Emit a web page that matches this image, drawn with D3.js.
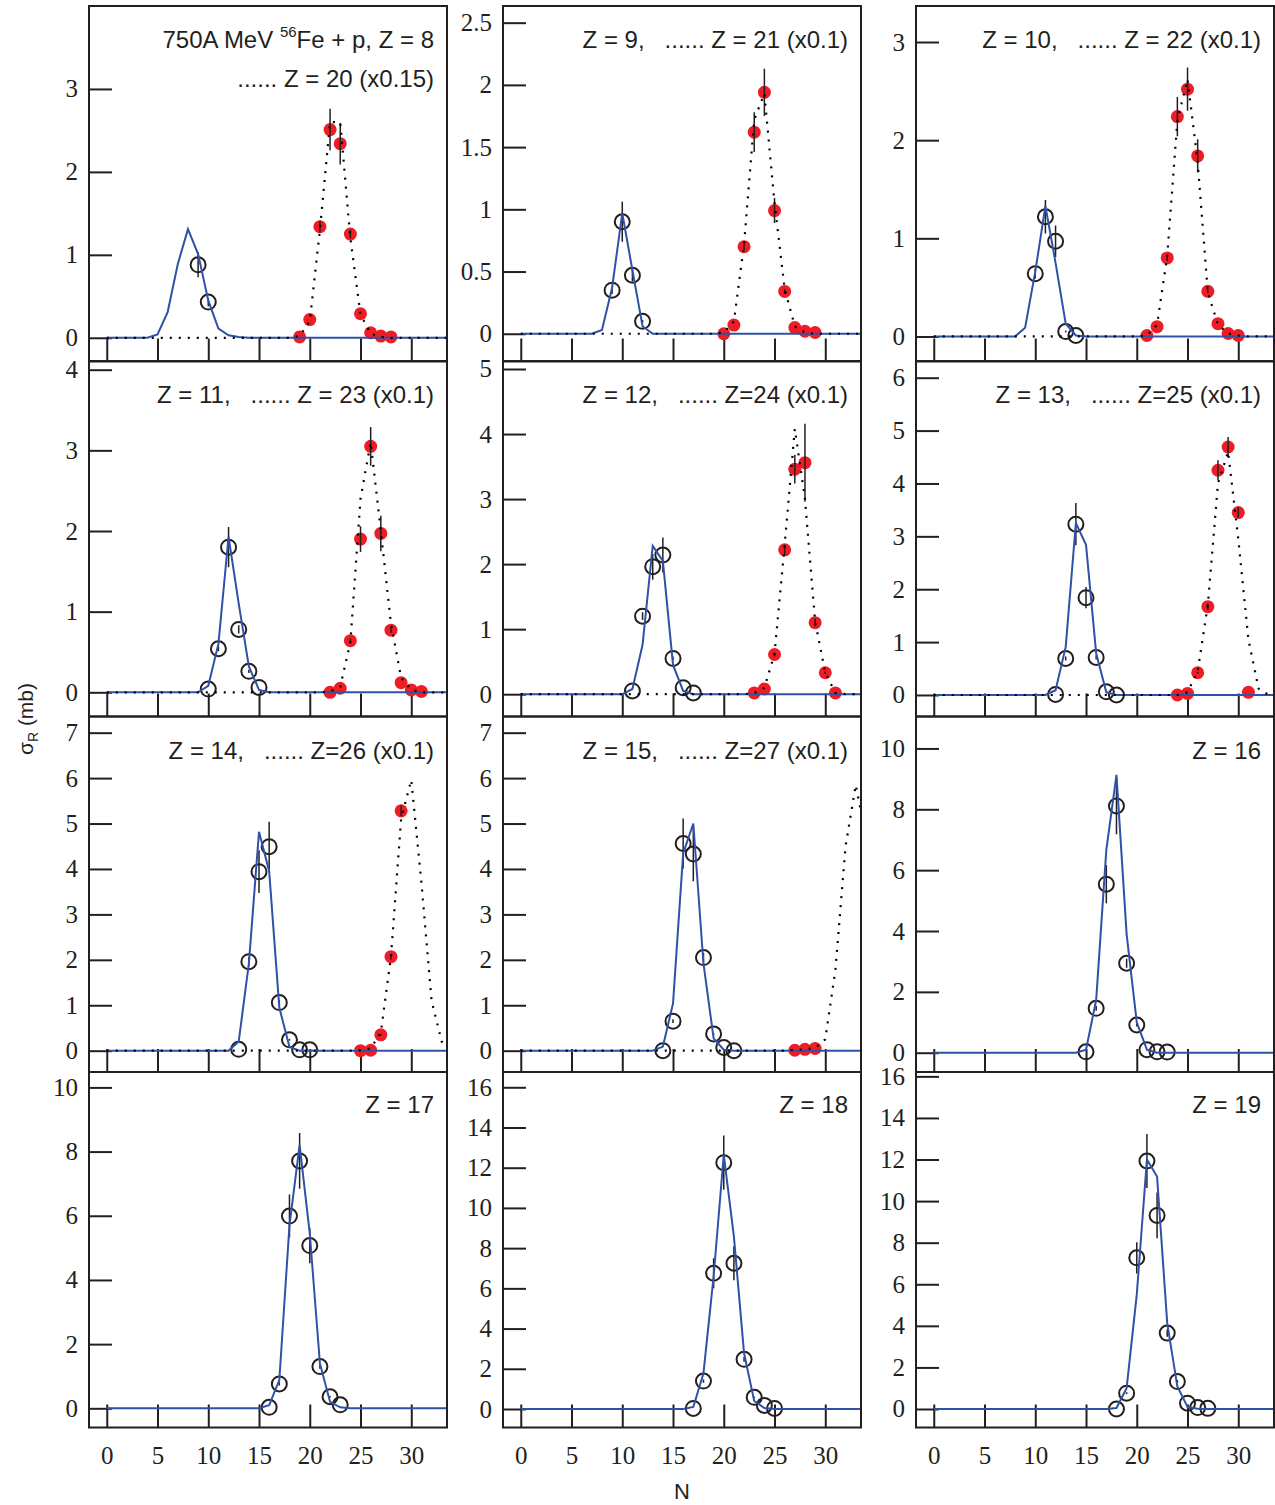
<!DOCTYPE html>
<html>
<head>
<meta charset="utf-8">
<script src="https://cdn.jsdelivr.net/npm/d3@7"></script>
<style>
  body { margin: 0; background: #fff; }
  svg { display: block; }
</style>
</head>
<body>
<svg width="1275" height="1505"></svg>
<script>
// Z of the main (open circle / blue line) fragment in each panel
const panelZ = [8, 9, 10, 11, 12, 13, 14, 15, 16, 17, 18, 19];

// second fragment (red dots / dotted line) shown scaled in the same panel
const scaledLabel = [
  'Z = 20 (x0.15)', 'Z = 21 (x0.1)', 'Z = 22 (x0.1)', 'Z = 23 (x0.1)',
  'Z=24 (x0.1)', 'Z=25 (x0.1)', 'Z=26 (x0.1)', 'Z=27 (x0.1)',
  null, null, null, null
];

// measured cross sections [N, sigma, error]
const openPoints = [
  [[9, 0.88, 0.15], [10, 0.43, 0.05]],
  [[9, 0.35, 0.03], [10, 0.90, 0.16], [11, 0.47, 0.05], [12, 0.10, 0.01]],
  [[10, 0.64, 0.05], [11, 1.22, 0.17], [12, 0.97, 0.16], [13, 0.05, 0.01], [14, 0.01, 0]],
  [[10, 0.04, 0], [11, 0.54, 0.03], [12, 1.80, 0.25], [13, 0.78, 0.05], [14, 0.26, 0.02], [15, 0.06, 0]],
  [[11, 0.05, 0], [12, 1.20, 0.06], [13, 1.96, 0.2], [14, 2.14, 0.27], [15, 0.55, 0.03], [16, 0.10, 0], [17, 0.02, 0]],
  [[12, 0.01, 0], [13, 0.69, 0.04], [14, 3.23, 0.4], [15, 1.84, 0.2], [16, 0.71, 0.04], [17, 0.06, 0], [18, 0.0, 0]],
  [[13, 0.03, 0], [14, 1.96, 0.1], [15, 3.94, 0.47], [16, 4.49, 0.55], [17, 1.06, 0.06], [18, 0.24, 0.02], [19, 0.02, 0], [20, 0.02, 0]],
  [[14, 0.0, 0], [15, 0.65, 0.04], [16, 4.56, 0.55], [17, 4.33, 0.6], [18, 2.05, 0.1], [19, 0.37, 0.02], [20, 0.07, 0], [21, 0.0, 0]],
  [[15, 0.03, 0], [16, 1.46, 0.08], [17, 5.54, 0.63], [18, 8.11, 0.93], [19, 2.94, 0.15], [20, 0.91, 0.05], [21, 0.10, 0], [22, 0.03, 0], [23, 0.02, 0]],
  [[16, 0.03, 0], [17, 0.76, 0.05], [18, 5.99, 0.67], [19, 7.71, 0.87], [20, 5.07, 0.55], [21, 1.30, 0.07], [22, 0.36, 0.02], [23, 0.11, 0]],
  [[17, 0.03, 0], [18, 1.39, 0.08], [19, 6.75, 0.75], [20, 12.25, 1.35], [21, 7.25, 0.85], [22, 2.47, 0.12], [23, 0.58, 0.03], [24, 0.18, 0], [25, 0.03, 0]],
  [[18, 0.0, 0], [19, 0.76, 0.04], [20, 7.27, 0.75], [21, 11.93, 1.3], [22, 9.31, 1.1], [23, 3.65, 0.18], [24, 1.32, 0.07], [25, 0.28, 0], [26, 0.07, 0], [27, 0.03, 0]]
];

const redPoints = [
  [[19, 0.01, 0], [20, 0.22, 0], [21, 1.34, 0.07], [22, 2.51, 0.25], [23, 2.34, 0.25], [24, 1.25, 0.05], [25, 0.29, 0], [26, 0.06, 0], [27, 0.02, 0], [28, 0.01, 0]],
  [[20, 0.0, 0], [21, 0.07, 0], [22, 0.70, 0.03], [23, 1.62, 0.16], [24, 1.94, 0.19], [25, 0.99, 0.1], [26, 0.34, 0.02], [27, 0.05, 0], [28, 0.02, 0], [29, 0.01, 0]],
  [[21, 0.01, 0], [22, 0.10, 0], [23, 0.80, 0.03], [24, 2.24, 0.2], [25, 2.52, 0.22], [26, 1.84, 0.17], [27, 0.46, 0.02], [28, 0.13, 0], [29, 0.03, 0], [30, 0.01, 0]],
  [[22, 0.0, 0], [23, 0.05, 0], [24, 0.64, 0.03], [25, 1.90, 0.16], [26, 3.05, 0.24], [27, 1.97, 0.22], [28, 0.77, 0.03], [29, 0.12, 0], [30, 0.03, 0], [31, 0.01, 0]],
  [[23, 0.02, 0], [24, 0.08, 0], [25, 0.61, 0.03], [26, 2.22, 0.08], [27, 3.46, 0.22], [28, 3.56, 0.6], [29, 1.10, 0.06], [30, 0.33, 0.02], [31, 0.02, 0]],
  [[24, 0.0, 0], [25, 0.03, 0], [26, 0.42, 0.02], [27, 1.67, 0.06], [28, 4.25, 0.19], [29, 4.69, 0.19], [30, 3.45, 0.1], [31, 0.05, 0]],
  [[25, 0.0, 0], [26, 0.01, 0], [27, 0.35, 0.02], [28, 2.07, 0.06], [29, 5.28, 0.12]],
  [[27, 0.01, 0], [28, 0.03, 0], [29, 0.05, 0]],
  [], [], [], []
];

// model curves [N, sigma]
const blueModel = [
  [[0, 0], [4, 0], [5, 0.04], [6, 0.31], [7, 0.89], [8, 1.31], [9, 1.01], [10, 0.45], [11, 0.11], [12, 0.03], [13, 0.01], [14, 0], [34, 0]],
  [[0, 0], [7, 0], [8, 0.03], [9, 0.37], [10, 0.97], [11, 0.51], [12, 0.06], [13, 0], [34, 0]],
  [[0, 0], [8, 0], [9, 0.09], [10, 0.66], [11, 1.33], [12, 0.75], [13, 0.13], [14, 0.01], [15, 0], [34, 0]],
  [[0, 0], [9, 0], [10, 0.08], [11, 0.6], [12, 1.93], [13, 1.1], [14, 0.32], [15, 0.03], [16, 0], [34, 0]],
  [[0, 0], [10, 0], [11, 0.08], [12, 0.76], [13, 2.28], [14, 2.05], [15, 0.45], [16, 0.05], [17, 0], [34, 0]],
  [[0, 0], [11, 0], [12, 0.09], [13, 0.91], [14, 3.25], [15, 2.84], [16, 0.79], [17, 0.05], [18, 0], [34, 0]],
  [[0, 0], [12, 0], [13, 0.2], [14, 1.92], [15, 4.82], [16, 3.95], [17, 0.95], [18, 0.08], [19, 0], [34, 0]],
  [[0, 0], [13, 0], [14, 0.09], [15, 1.04], [16, 4.34], [17, 5.0], [18, 1.92], [19, 0.27], [20, 0.02], [21, 0], [34, 0]],
  [[0, 0], [14, 0], [15, 0.1], [16, 1.73], [17, 6.66], [18, 9.13], [19, 3.9], [20, 1.0], [21, 0.1], [22, 0], [34, 0]],
  [[0, 0], [15, 0], [16, 0.1], [17, 0.88], [18, 5.7], [19, 8.2], [20, 5.45], [21, 1.4], [22, 0.2], [23, 0.03], [24, 0], [34, 0]],
  [[0, 0], [16, 0], [17, 0.1], [18, 1.78], [19, 6.6], [20, 12.64], [21, 8.57], [22, 2.77], [23, 0.4], [24, 0.05], [25, 0], [34, 0]],
  [[0, 0], [17, 0], [18, 0.05], [19, 1.0], [20, 5.5], [21, 12.0], [22, 11.18], [23, 4.13], [24, 1.08], [25, 0.1], [26, 0.01], [27, 0], [34, 0]]
];

const dottedModel = [
  [[0, 0], [18, 0], [19, 0.02], [20, 0.2], [21, 1.3], [22, 2.6], [23, 2.6], [24, 1.2], [25, 0.28], [26, 0.05], [27, 0.01], [28, 0], [34, 0]],
  [[0, 0], [19, 0], [20, 0.01], [21, 0.1], [22, 0.72], [23, 1.72], [24, 1.93], [25, 1.05], [26, 0.36], [27, 0.06], [28, 0.01], [29, 0], [34, 0]],
  [[0, 0], [20, 0], [21, 0.01], [22, 0.12], [23, 0.82], [24, 2.2], [25, 2.62], [26, 1.78], [27, 0.45], [28, 0.12], [29, 0.03], [30, 0.01], [31, 0], [34, 0]],
  [[0, 0], [21, 0], [22, 0.01], [23, 0.07], [24, 0.62], [25, 2.4], [26, 3.1], [27, 2.0], [28, 0.85], [29, 0.18], [30, 0.03], [31, 0], [34, 0]],
  [[0, 0], [22, 0], [23, 0.02], [24, 0.1], [25, 0.62], [26, 2.3], [27, 4.08], [28, 3.0], [29, 1.12], [30, 0.33], [31, 0.02], [32, 0], [34, 0]],
  [[0, 0], [24, 0], [25, 0.05], [26, 0.45], [27, 1.7], [28, 4.0], [29, 4.6], [30, 2.95], [31, 1.05], [32, 0.12], [33, 0], [34, 0]],
  [[0, 0], [24, 0], [25, 0.01], [26, 0.05], [27, 0.4], [28, 2.07], [29, 5.1], [30, 5.96], [31, 3.7], [32, 1.1], [33, 0.2], [34, 0]],
  [[0, 0], [26, 0], [27, 0.02], [28, 0.03], [29, 0.06], [30, 0.25], [31, 1.78], [32, 4.5], [33, 5.85], [34, 4.72]],
  null, null, null, null
];

// axes
const xTicks = [0, 5, 10, 15, 20, 25, 30];
const xDomain = [-1.75, 33.52];
const yTicks = [
  [0, 1, 2, 3], [0, 0.5, 1, 1.5, 2, 2.5], [0, 1, 2, 3],
  [0, 1, 2, 3, 4], [0, 1, 2, 3, 4, 5], [0, 1, 2, 3, 4, 5, 6],
  [0, 1, 2, 3, 4, 5, 6, 7], [0, 1, 2, 3, 4, 5, 6, 7], [0, 2, 4, 6, 8, 10],
  [0, 2, 4, 6, 8, 10], [0, 2, 4, 6, 8, 10, 12, 14, 16], [0, 2, 4, 6, 8, 10, 12, 14, 16]
];
const yDomains = [
  [-0.286, 4.0], [-0.223, 2.634], [-0.255, 3.367],
  [-0.30, 4.108], [-0.343, 5.123], [-0.407, 6.316],
  [-0.469, 7.356], [-0.469, 7.356], [-0.634, 11.05],
  [-0.598, 10.48], [-0.92, 16.76], [-0.89, 16.21]
];

const svg = d3.select('svg');
const colLeft = [89, 503, 916];
const rowTop = [6, 361, 716.5, 1072];
const panelW = 358, panelH = 355.5;
const ink = '#231f20';
const blue = '#2f52a6';
const red = '#ee1c25';
const sans = 'Liberation Sans, Arial, sans-serif';
const serif = 'Liberation Serif, Times New Roman, serif';

panelZ.forEach((z, i) => {
  const col = i % 3;
  const row = Math.floor(i / 3);
  const g = svg.append('g')
    .attr('transform', `translate(${colLeft[col]},${rowTop[row]})`);

  const x = d3.scaleLinear().domain(xDomain).range([0, panelW]);
  const y = d3.scaleLinear().domain(yDomains[i]).range([panelH, 0]);

  g.append('clipPath').attr('id', 'clip' + i)
    .append('rect').attr('width', panelW).attr('height', panelH);

  // ticks point inwards
  const yAxis = g.append('g')
    .call(d3.axisLeft(y).tickValues(yTicks[i]).tickSize(-23).tickPadding(11)
      .tickFormat((d) => String(d)));
  const xAxis = g.append('g')
    .attr('transform', `translate(0,${panelH})`)
    .call(d3.axisBottom(x).tickValues(xTicks).tickSize(-23).tickPadding(19));

  [yAxis, xAxis].forEach((a) => {
    a.select('.domain').remove();
    a.selectAll('line').attr('stroke', ink).attr('stroke-width', 2);
    a.selectAll('text')
      .attr('fill', ink)
      .style('font-family', serif)
      .style('font-size', '25px');
  });
  if (row < 3) xAxis.selectAll('text').remove();

  const plot = g.append('g').attr('clip-path', `url(#clip${i})`);
  const line = d3.line().x((d) => x(d[0])).y((d) => y(d[1]));

  // scaled partner fragment
  plot.selectAll('circle.red').data(redPoints[i]).join('circle')
    .attr('class', 'red')
    .attr('cx', (d) => x(d[0])).attr('cy', (d) => y(d[1]))
    .attr('r', 6.5).attr('fill', red);

  // measured fragment
  plot.selectAll('circle.open').data(openPoints[i]).join('circle')
    .attr('class', 'open')
    .attr('cx', (d) => x(d[0])).attr('cy', (d) => y(d[1]))
    .attr('r', 7.5).attr('fill', 'none')
    .attr('stroke', ink).attr('stroke-width', 2);

  const errs = openPoints[i].concat(redPoints[i]).filter((d) => d[2] > 0);
  plot.selectAll('line.err').data(errs).join('line')
    .attr('class', 'err')
    .attr('x1', (d) => x(d[0])).attr('x2', (d) => x(d[0]))
    .attr('y1', (d) => y(d[1] - d[2])).attr('y2', (d) => y(d[1] + d[2]))
    .attr('stroke', ink).attr('stroke-width', 1.5);

  plot.append('path')
    .attr('d', line(blueModel[i]))
    .attr('fill', 'none').attr('stroke', blue).attr('stroke-width', 2);

  if (dottedModel[i]) {
    plot.append('path')
      .attr('d', line(dottedModel[i]))
      .attr('fill', 'none').attr('stroke', '#000').attr('stroke-width', 2.2)
      .attr('stroke-dasharray', '2 7');
  }

  // panel label
  const label = g.append('text')
    .attr('x', panelW - 13).attr('y', row < 3 ? 42 : 41)
    .attr('text-anchor', 'end')
    .attr('font-family', sans).attr('font-size', 24).attr('fill', ink)
    .style('white-space', 'pre');
  if (i === 0) {
    label.append('tspan').text('750A MeV ');
    label.append('tspan').attr('font-size', 15).attr('dy', -11).text('56');
    label.append('tspan').attr('dy', 11).text('Fe + p, Z = 8');
    g.append('text')
      .attr('x', panelW - 13).attr('y', 81)
      .attr('text-anchor', 'end')
      .attr('font-family', sans).attr('font-size', 24).attr('fill', ink)
      .text('...... ' + scaledLabel[i]);
  } else if (scaledLabel[i]) {
    label.text(`Z = ${z},   ...... ${scaledLabel[i]}`);
  } else {
    label.text(`Z = ${z}`);
  }

  g.append('rect')
    .attr('width', panelW).attr('height', panelH)
    .attr('fill', 'none').attr('stroke', ink).attr('stroke-width', 2);
});

// axis titles
svg.append('text')
  .attr('x', colLeft[1] + panelW / 2).attr('y', 1499)
  .attr('text-anchor', 'middle')
  .attr('font-family', sans).attr('font-size', 22).attr('fill', ink)
  .text('N');

const yTitle = svg.append('text')
  .attr('transform', 'translate(33,719) rotate(-90)')
  .attr('text-anchor', 'middle')
  .attr('font-family', sans).attr('font-size', 21).attr('fill', ink);
yTitle.append('tspan').text('σ');
yTitle.append('tspan').attr('font-size', 14).attr('dy', 5).text('R');
yTitle.append('tspan').attr('dy', -5).text(' (mb)');
</script>
</body>
</html>
